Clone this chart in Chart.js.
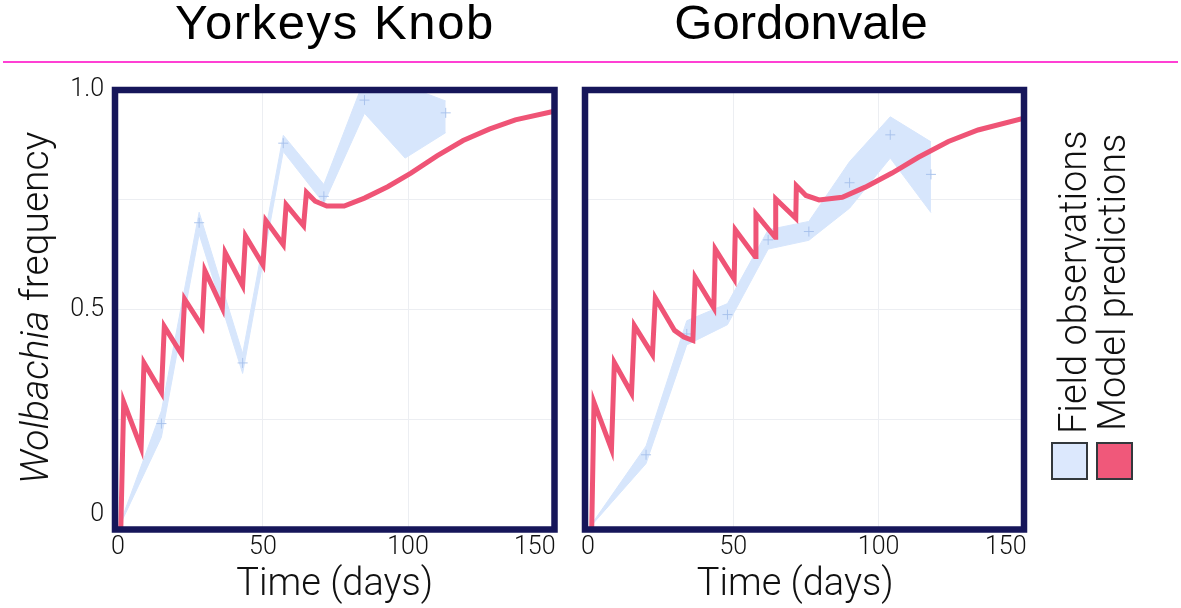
<!DOCTYPE html>
<html>
<head>
<meta charset="utf-8">
<script src="https://cdn.jsdelivr.net/npm/chart.js@4.4.1/dist/chart.umd.min.js"></script>
<style>
  html, body { margin: 0; padding: 0; background: #fff; }
  #page { position: relative; width: 1181px; height: 608px; overflow: hidden; font-family: Roboto, "Liberation Sans", sans-serif; }
  canvas { position: absolute; top: 0; }
  .title { position: absolute; top: -2px; font-family: "Liberation Sans", Arial, sans-serif; font-size: 49px; line-height: 49px; text-align: center; color: #000; white-space: nowrap; }
  .rule { position: absolute; left: 3px; top: 61px; width: 1175px; height: 2px; background: #ff40d4; }
  .vtext { position: absolute; white-space: nowrap; line-height: 1; transform-origin: 0 0; transform: rotate(-90deg); font-weight: 300; color: #111; z-index: 2; }
  .swatch { position: absolute; top: 442px; width: 37px; height: 38px; box-sizing: border-box; border: 2px solid #33383c; z-index: 2; }
</style>
</head>
<body>
<div id="page">
  <div class="title" style="left:35px;width:600px;letter-spacing:1.6px;">Yorkeys Knob</div>
  <div class="title" style="left:501px;width:600px;">Gordonvale</div>
  <div class="rule"></div>

  <canvas id="yorkeys-chart" width="600" height="608" style="left:0px"></canvas>
  <canvas id="gordonvale-chart" width="500" height="608" style="left:570px"></canvas>

  <div class="vtext" style="left:16px;top:484px;font-size:39px;"><i>Wolbachia</i> frequency</div>

  <div class="vtext" style="left:1054px;top:434px;font-size:38px;">Field observations</div>
  <div class="vtext" style="left:1093px;top:431px;font-size:38px;">Model predictions</div>
  <div class="swatch" style="left:1051px;background:#dce8fd;"></div>
  <div class="swatch" style="left:1096px;background:#f0587a;"></div>
</div>

<script>
// Axis ticks
const xTickValues = [0, 50, 100, 150];
const yTickValues = [0, 0.25, 0.5, 0.75, 1];

// Yorkeys Knob - model predictions
const ykModelDay  = [1, 2, 8, 9, 15, 16, 22, 23, 29, 30, 36, 37, 43, 44, 50, 51, 57, 58, 64, 65, 68, 72, 78, 85, 93, 101, 110, 119, 128, 137, 150];
const ykModelFreq = [0.0, 0.29, 0.186, 0.379, 0.312, 0.462, 0.398, 0.524, 0.462, 0.589, 0.504, 0.630, 0.555, 0.668, 0.602, 0.703, 0.648, 0.739, 0.691, 0.767, 0.747, 0.736, 0.736, 0.754, 0.780, 0.811, 0.850, 0.885, 0.911, 0.932, 0.951];

// Yorkeys Knob - field observations (mean and band)
const ykObsDay  = [0, 15, 28, 43, 57, 71, 85, 99, 113];
const ykObsMean = [null, 0.241, 0.698, 0.379, 0.879, 0.758, 0.977, null, 0.948];
const ykObsLow  = [0, 0.21, 0.672, 0.355, 0.86, 0.742, 0.947, 0.845, 0.903];
const ykObsHigh = [0, 0.27, 0.722, 0.40, 0.897, 0.785, 1.025, 1.01, 0.975];

// Gordonvale - model predictions
const gvModelDay  = [1.3, 2.1, 8.1, 9.1, 15, 16, 22.2, 23.2, 29.8, 33, 36.1, 36.9, 43.3, 43.8, 50.3, 50.7, 57.5, 57.8, 64.4, 64.6, 71.5, 71.7, 75, 79.5, 87.5, 95.4, 104.6, 113.7, 124, 134.2, 150];
const gvModelFreq = [0.0, 0.289, 0.183, 0.38, 0.31, 0.464, 0.398, 0.527, 0.453, 0.438, 0.430, 0.574, 0.504, 0.638, 0.570, 0.682, 0.621, 0.718, 0.665, 0.752, 0.708, 0.782, 0.760, 0.750, 0.756, 0.779, 0.811, 0.847, 0.883, 0.909, 0.936];

// Gordonvale - field observations (mean and band)
const gvObsDay  = [0, 20, 34, 48, 62, 76, 90, 104, 118];
const gvObsMean = [null, 0.17, 0.445, 0.489, 0.659, 0.678, 0.789, 0.898, 0.808];
const gvObsLow  = [0, 0.15, 0.42, 0.466, 0.638, 0.658, 0.731, 0.845, 0.721];
const gvObsHigh = [0, 0.19, 0.475, 0.514, 0.682, 0.701, 0.837, 0.939, 0.882];

const RED = '#ef5476';
const BAND = '#d7e6fc';
const FRAME = '#16165a';
const GRID = '#eceef2';
const TICK_FONT = { family: 'Roboto, "Liberation Sans", sans-serif', size: 25, weight: 300 };

const toPoints = (xs, ys) => xs.map((x, i) => ({ x: x, y: ys[i] }));

// thick navy box around the plotting area
const framePlugin = {
    id: 'frame',
    afterDatasetsDraw(chart) {
        const { ctx, chartArea: a } = chart;
        ctx.save();
        ctx.strokeStyle = FRAME;
        ctx.lineWidth = 6.5;
        ctx.strokeRect(a.left, a.top, a.right - a.left, a.bottom - a.top);
        ctx.restore();
    }
};

function buildChart(canvasId, cfg) {
    const ctx = document.getElementById(canvasId).getContext('2d');
    return new Chart(ctx, {
        type: 'line',
        data: {
            datasets: [
                {
                    label: 'Model predictions',
                    data: toPoints(cfg.modelDay, cfg.modelFreq),
                    borderColor: RED,
                    borderWidth: 5,
                    pointRadius: 0,
                    tension: 0,
                    fill: false,
                    order: 0
                },
                {
                    label: 'Observed mean',
                    data: toPoints(cfg.obsDay, cfg.obsMean),
                    showLine: false,
                    pointStyle: 'cross',
                    pointRadius: 5,
                    pointBorderWidth: 1,
                    pointBorderColor: 'rgba(165,192,235,0.9)',
                    order: 1
                },
                {
                    label: 'Observed low',
                    data: toPoints(cfg.obsDay, cfg.obsLow),
                    borderColor: BAND,
                    borderWidth: 1,
                    pointRadius: 0,
                    tension: 0,
                    fill: false,
                    order: 3
                },
                {
                    label: 'Field observations',
                    data: toPoints(cfg.obsDay, cfg.obsHigh),
                    borderColor: BAND,
                    backgroundColor: BAND,
                    borderWidth: 1,
                    pointRadius: 0,
                    tension: 0,
                    fill: '-1',
                    order: 2
                }
            ]
        },
        options: {
            responsive: false,
            animation: false,
            layout: { padding: { top: 90, right: cfg.padRight, left: 0, bottom: 0 } },
            plugins: {
                legend: { display: false },
                tooltip: { enabled: false }
            },
            scales: {
                x: {
                    type: 'linear',
                    min: -1,
                    max: cfg.xMax,
                    border: { display: false },
                    grid: { color: GRID, lineWidth: 1, drawTicks: false },
                    afterBuildTicks: (s) => { s.ticks = xTickValues.map(v => ({ value: v })); },
                    afterFit: (s) => { s.height = 78.5; },
                    ticks: {
                        padding: 3,
                        color: '#111',
                        font: TICK_FONT,
                        maxRotation: 0,
                        autoSkip: false,
                        callback: (v) => v === 150 ? '150      ' : String(v)
                    },
                    title: {
                        display: true,
                        text: cfg.xTitle,
                        color: '#111',
                        font: { family: 'Roboto, "Liberation Sans", sans-serif', size: 38, weight: 300 },
                        padding: { top: 0, bottom: 0 }
                    }
                },
                y: {
                    type: 'linear',
                    min: 0,
                    max: 1,
                    border: { display: false },
                    grid: { color: GRID, lineWidth: 1, drawTicks: false },
                    afterBuildTicks: (s) => { s.ticks = yTickValues.map(v => ({ value: v })); },
                    afterFit: (s) => { s.width = cfg.yWidth; },
                    ticks: {
                        display: cfg.showY,
                        padding: 11,
                        color: '#111',
                        font: TICK_FONT,
                        autoSkip: false,
                        callback: (v) => {
                            if (v === 1) return '1.0';
                            if (v === 0.5) return '0.5';
                            if (v === 0) return ['0', ''];
                            return '';
                        }
                    }
                }
            }
        },
        plugins: [framePlugin]
    });
}

buildChart('yorkeys-chart', {
    modelDay: ykModelDay, modelFreq: ykModelFreq,
    obsDay: ykObsDay, obsMean: ykObsMean, obsLow: ykObsLow, obsHigh: ykObsHigh,
    xMax: 150.5, padRight: 45.5, yWidth: 115, showY: true, xTitle: 'Time (days)'
});

buildChart('gordonvale-chart', {
    modelDay: gvModelDay, modelFreq: gvModelFreq,
    obsDay: gvObsDay, obsMean: gvObsMean, obsLow: gvObsLow, obsHigh: gvObsHigh,
    xMax: 150, padRight: 46, yWidth: 15, showY: false, xTitle: 'Time (days)  '
});
</script>
</body>
</html>
